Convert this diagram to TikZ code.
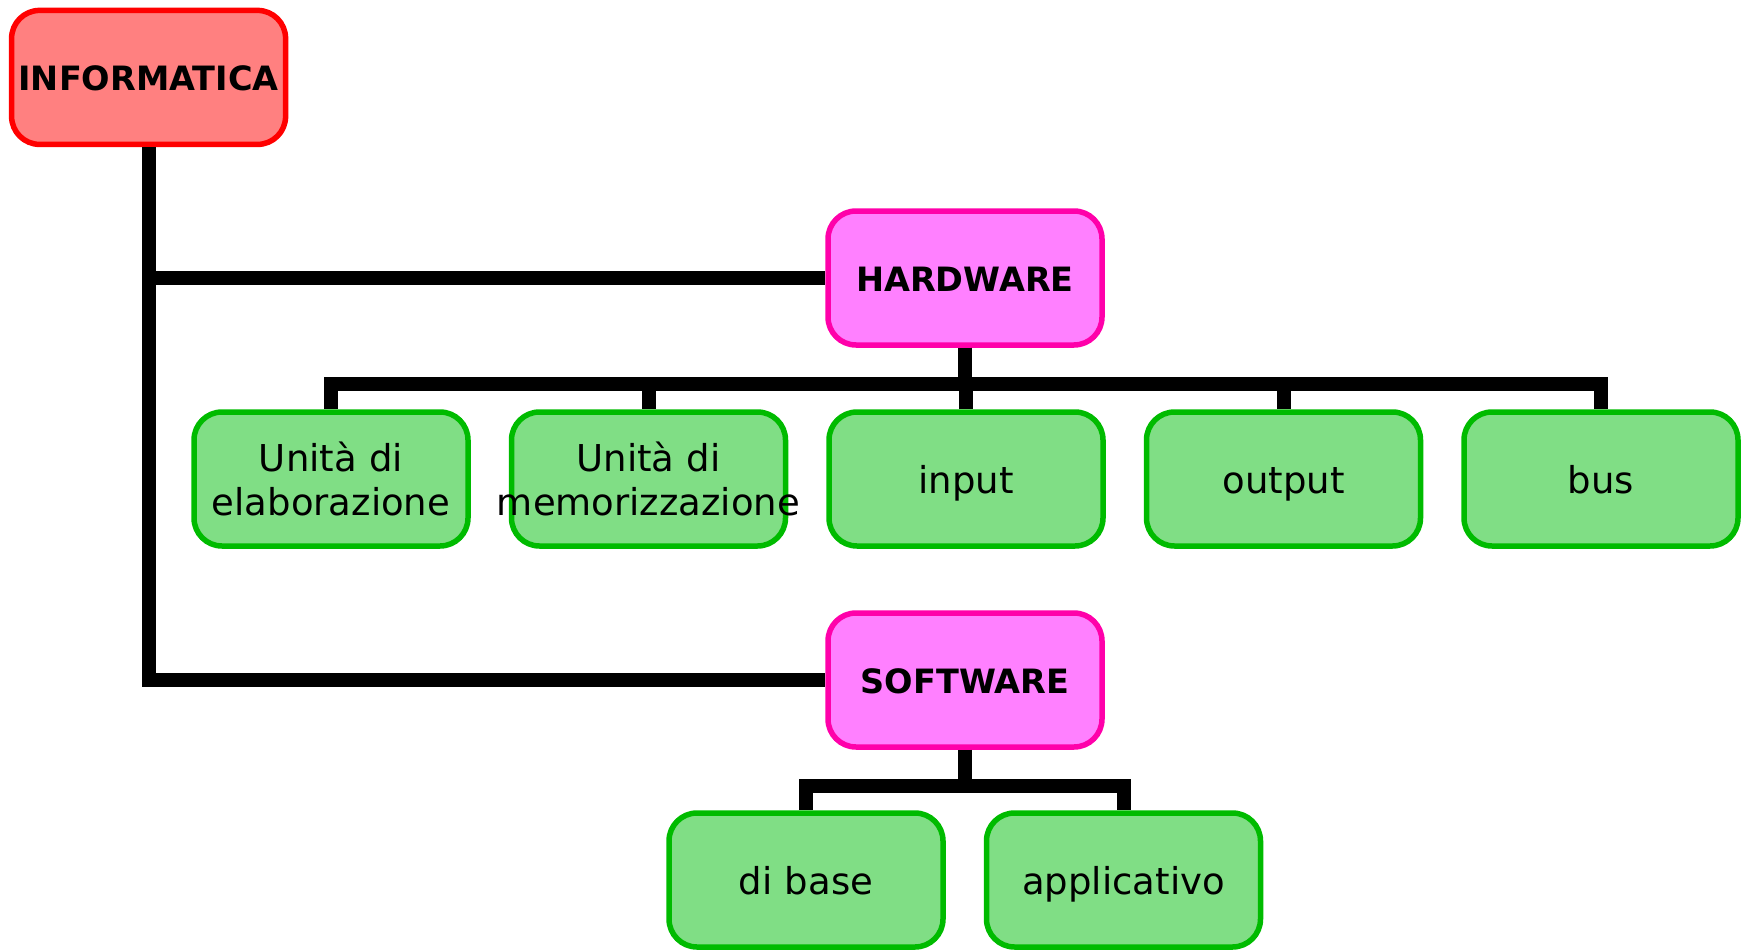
\documentclass[tikz,border=0pt]{standalone}
\usepackage{fontspec}
\setmainfont{DejaVu Sans}
\usepackage{xcolor}
\usepackage{tikz}
\usetikzlibrary{calc,positioning}
\definecolor{infofill}{RGB}{255,128,128}
\definecolor{infoline}{RGB}{255,0,0}
\definecolor{hwfill}{RGB}{255,128,255}
\definecolor{hwline}{RGB}{255,0,170}
\definecolor{leaffill}{RGB}{128,222,133}
\definecolor{leafline}{RGB}{0,187,0}
\newcommand{\topstrut}{\vrule width0pt height\dimexpr.7\baselineskip+11pt\relax}
\tikzset{
  box/.style={draw, rounded corners=28pt, line width=5.5pt, minimum width=274pt,
  minimum height=134pt, inner xsep=0pt, text width=274pt, align=center,
  execute at begin node=\topstrut, execute at end node=\strut},
  root/.style={box, fill=infofill, draw=infoline,
  font=\fontsize{33.5}{40}\selectfont\bfseries},
  area/.style={box, fill=hwfill, draw=hwline,
  font=\fontsize{33.5}{40}\selectfont\bfseries},
  leaf/.style={box, fill=leaffill, draw=leafline,
  font=\fontsize{37}{44}\selectfont},
  wire/.style={line width=14pt, black}
}

\begin{document}
\begin{tikzpicture}[x=1pt,y=1pt,node distance=38pt]
    \useasboundingbox (0,0) rectangle (1746,-950);
    \node (inf) [root] at (148.6,-77.4) {INFORMATICA};
    \node (hw) [area] at (965,-278) {HARDWARE};
    \node (sw) [area] at (965,-680) {SOFTWARE};
    % hardware row
    \node (elab) [leaf] at (331,-479) {Unità di\\elaborazione};
    \node (mem) [leaf,right=of elab] {Unità di\\\makebox[0pt]{memorizzazione}};
    \node (inp) [leaf,right=of mem] {input};
    \node (outp) [leaf,right=of inp] {output};
    \node (bus) [leaf,right=of outp] {bus};
    % software row
    \node (base) [leaf] at (806,-880) {di base};
    \node (app) [leaf,right=of base] {applicativo};
    \path (inf.south) edge [wire] (inf.south |- sw.west);
    \draw [wire] (inf.south |- hw.west) -- (hw.west);
    \draw [wire] ($(inf.south |- sw.west)+(0,7pt)$) |- (sw.west);
    \foreach \c in {elab,mem,inp,outp,bus}
        \draw [wire] (hw.south) -- ++(0,-36) -| (\c.north);
    \foreach \c in {base,app}
        \draw [wire] (sw.south) -- ++(0,-36) -| (\c.north);
\end{tikzpicture}
\end{document}
